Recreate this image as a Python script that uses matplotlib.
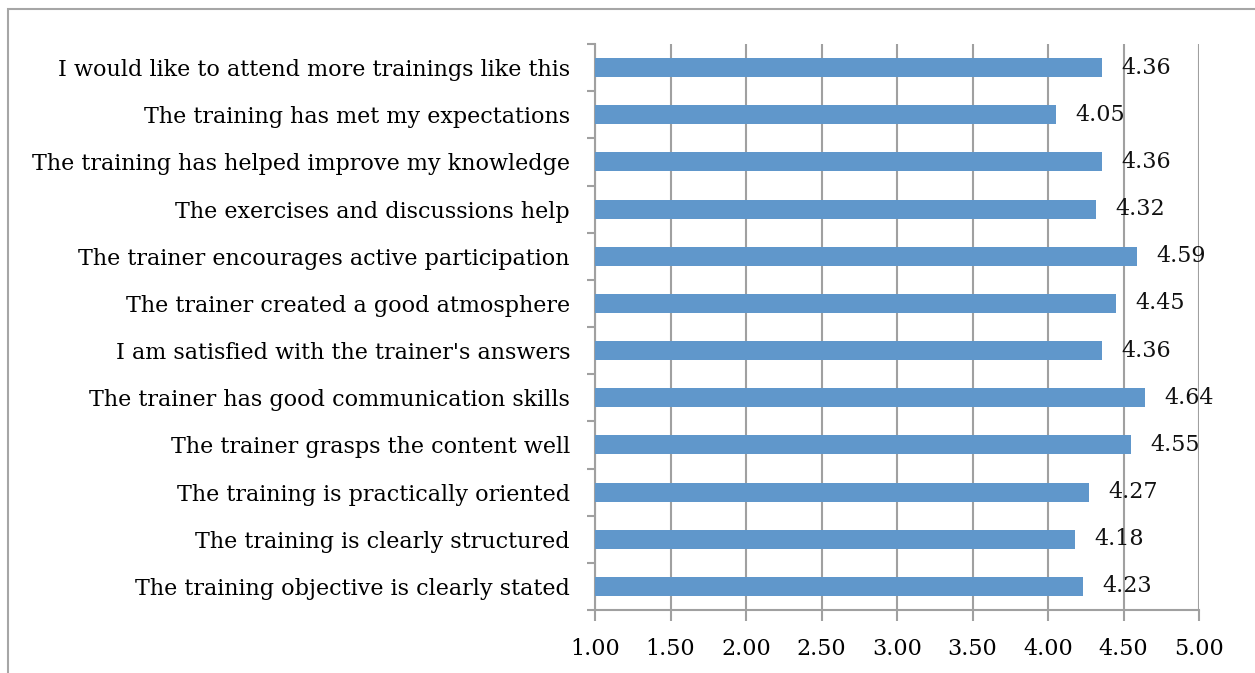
import matplotlib
matplotlib.use("Agg")
import matplotlib.pyplot as plt
from matplotlib.patches import Rectangle

categories = [
    "The training objective is clearly stated",
    "The training is clearly structured",
    "The training is practically oriented",
    "The trainer grasps the content well",
    "The trainer has good communication skills",
    "I am satisfied with the trainer's answers",
    "The trainer created a good atmosphere",
    "The trainer encourages active participation",
    "The exercises and discussions help",
    "The training has helped improve my knowledge",
    "The training has met my expectations",
    "I would like to attend more trainings like this",
]
values = [4.23, 4.18, 4.27, 4.55, 4.64, 4.36, 4.45, 4.59, 4.32, 4.36, 4.05, 4.36]
xticks = [1.0, 1.5, 2.0, 2.5, 3.0, 3.5, 4.0, 4.5, 5.0]

plt.rcParams['font.family'] = ['DejaVu Serif']
W, H = 1255, 673
fig = plt.figure(figsize=(W / 100, H / 100), dpi=100)

# outer frame
fig.patches.append(Rectangle((8 / W, -0.1), 1.2, (H - 9) / H + 0.1, transform=fig.transFigure,
                             fill=False, edgecolor='#A6A6A6', linewidth=1.5))

FS = 16
ax = fig.add_axes([595 / W, 1 - 610 / H, (1199 - 595) / W, (610 - 44) / H])
grid_c = '#A0A0A0'
y = list(range(len(categories)))
ax.barh(y, [v - 1.0 for v in values], left=1.0, height=0.4, color='#6097CB', zorder=3)
for yi, v in zip(y, values):
    ax.annotate(f"{v:.2f}", (v, yi), xytext=(14, 0), textcoords='offset points',
                va='center', ha='left', fontsize=FS, color='#111111', zorder=4)

ax.set_xlim(1.0, 5.0)
ax.set_ylim(-0.5, len(categories) - 0.5)
ax.set_xticks(xticks)
ax.set_xticklabels([f"{t:.2f}" for t in xticks], fontsize=FS)
ax.set_yticks(y)
ax.set_yticklabels(categories, fontsize=FS)
ax.set_yticks([i - 0.5 for i in range(len(categories) + 1)], minor=True)
ax.tick_params(axis='y', which='major', length=0, pad=18)
ax.tick_params(axis='y', which='minor', length=6, color=grid_c, width=1.5)
ax.tick_params(axis='x', length=8, color=grid_c, width=1.5, pad=12)
ax.grid(axis='x', color=grid_c, linewidth=1.5, zorder=0)
for s in ['top', 'right']:
    ax.spines[s].set_visible(False)
for s in ['left', 'bottom']:
    ax.spines[s].set_color(grid_c)
    ax.spines[s].set_linewidth(1.5)

fig.savefig("out.png", dpi=100)
